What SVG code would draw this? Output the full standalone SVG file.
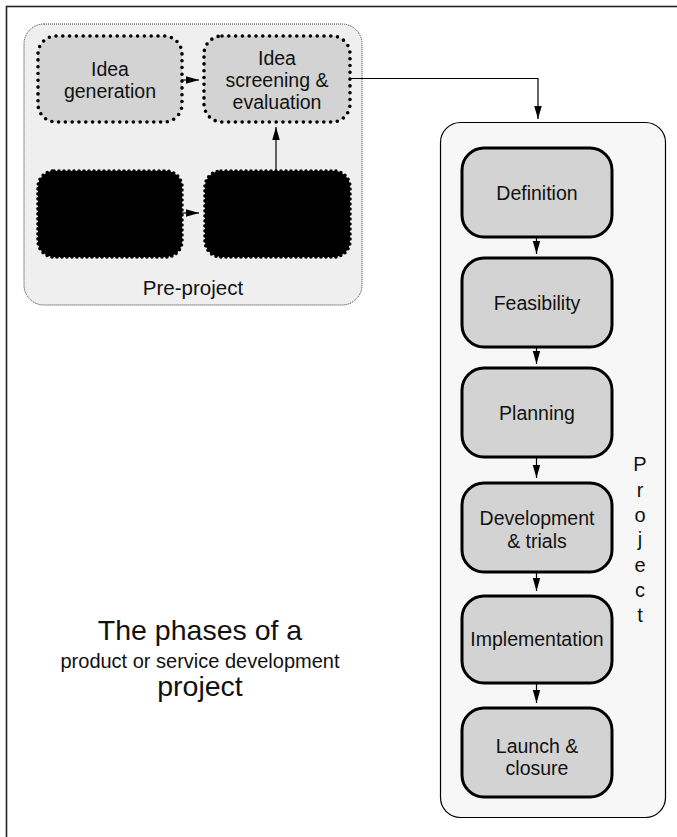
<svg xmlns="http://www.w3.org/2000/svg" width="677" height="837" viewBox="0 0 677 837">
  <style>
    text { font-family: "Liberation Sans", Arial, sans-serif; fill: #111; text-anchor: middle; }
    .lbl { font-size: 19.5px; }
    .pre { fill: #d3d3d3; stroke: #000; stroke-width: 3.6; stroke-dasharray: 0 6.8; stroke-linecap: round; }
    .blk { fill: #000; stroke: #000; stroke-width: 3.6; stroke-dasharray: 0 5; stroke-linecap: round; }
    .phase { fill: #d3d3d3; stroke: #000; stroke-width: 3; }
    .conn { fill: none; stroke: #000; stroke-width: 1.2; }
  </style>
  <defs>
    <marker id="arrow" markerUnits="userSpaceOnUse" markerWidth="14" markerHeight="8" refX="13" refY="3.75" orient="auto">
      <path d="M0,0 L13,3.75 L0,7.5 z" fill="#000"/>
    </marker>
  </defs>

  <rect width="677" height="837" fill="#fff"/>
  <!-- page frame, cut off at right and bottom -->
  <rect x="6.5" y="6.5" width="720" height="900" fill="none" stroke="#222" stroke-width="1.6"/>

  <!-- pre-project container -->
  <g id="pre-project">
    <rect x="24" y="24" width="338" height="281" rx="20" fill="#efefef" stroke="#333" stroke-width="1" stroke-dasharray="1 1"/>
    <text x="193" y="295" style="font-size:20.5px">Pre-project</text>
  </g>

  <g id="idea-generation">
    <rect class="pre" x="38" y="36" width="144" height="86" rx="18"/>
    <text class="lbl" x="110" y="76">Idea</text>
    <text class="lbl" x="110" y="98">generation</text>
  </g>

  <g id="idea-screening">
    <rect class="pre" x="204" y="36" width="146" height="86" rx="18"/>
    <text class="lbl" x="277" y="65">Idea</text>
    <text class="lbl" x="277" y="87">screening &amp;</text>
    <text class="lbl" x="277" y="109">evaluation</text>
  </g>

  <g id="hidden-1">
    <rect class="blk" x="38" y="171" width="144" height="86" rx="16"/>
  </g>
  <g id="hidden-2">
    <rect class="blk" x="205" y="171" width="145" height="86" rx="16"/>
  </g>

  <!-- project container -->
  <g id="project">
    <rect x="440.5" y="122.5" width="225" height="695" rx="20" fill="#f7f7f7" stroke="#000" stroke-width="1.2"/>
    <text x="640" y="471" style="font-size:20px">P</text>
    <text x="640" y="496.5" style="font-size:20px">r</text>
    <text x="640" y="521.5" style="font-size:20px">o</text>
    <text x="640" y="546" style="font-size:20px">j</text>
    <text x="640" y="572" style="font-size:20px">e</text>
    <text x="640" y="597" style="font-size:20px">c</text>
    <text x="640" y="621.5" style="font-size:20px">t</text>
  </g>

  <g id="definition">
    <rect class="phase" x="462" y="148" width="150" height="89" rx="22"/>
    <text class="lbl" x="537" y="200">Definition</text>
  </g>
  <g id="feasibility">
    <rect class="phase" x="462" y="258" width="150" height="89" rx="22"/>
    <text class="lbl" x="537" y="310">Feasibility</text>
  </g>
  <g id="planning">
    <rect class="phase" x="462" y="368" width="150" height="89" rx="22"/>
    <text class="lbl" x="537" y="420">Planning</text>
  </g>
  <g id="development">
    <rect class="phase" x="462" y="483" width="150" height="89" rx="22"/>
    <text class="lbl" x="537" y="525">Development</text>
    <text class="lbl" x="537" y="548">&amp; trials</text>
  </g>
  <g id="implementation">
    <rect class="phase" x="462" y="596" width="150" height="87" rx="22"/>
    <text class="lbl" x="537" y="646">Implementation</text>
  </g>
  <g id="launch">
    <rect class="phase" x="462" y="708" width="150" height="89" rx="22"/>
    <text class="lbl" x="537" y="753">Launch &amp;</text>
    <text class="lbl" x="537" y="775">closure</text>
  </g>

  <!-- title -->
  <g id="title">
    <text x="200" y="640" style="font-size:28.5px">The phases of a</text>
    <text x="200" y="668" style="font-size:20px">product or service development</text>
    <text x="200" y="696" style="font-size:28.5px">project</text>
  </g>

  <g id="connectors">
    <path class="conn" d="M182,80 H199" marker-end="url(#arrow)"/>
    <path class="conn" d="M182,213 H199" marker-end="url(#arrow)"/>
    <path class="conn" d="M276,171 V127" stroke="#444" marker-end="url(#arrow)"/>
    <path class="conn" d="M350,78.5 H538 V119" marker-end="url(#arrow)"/>
    <path class="conn" d="M536.5,237 V254" marker-end="url(#arrow)"/>
    <path class="conn" d="M536.5,347 V364" marker-end="url(#arrow)"/>
    <path class="conn" d="M536.5,457 V478" marker-end="url(#arrow)"/>
    <path class="conn" d="M536.5,572 V591" marker-end="url(#arrow)"/>
    <path class="conn" d="M536.5,683 V703" marker-end="url(#arrow)"/>
  </g>
</svg>
